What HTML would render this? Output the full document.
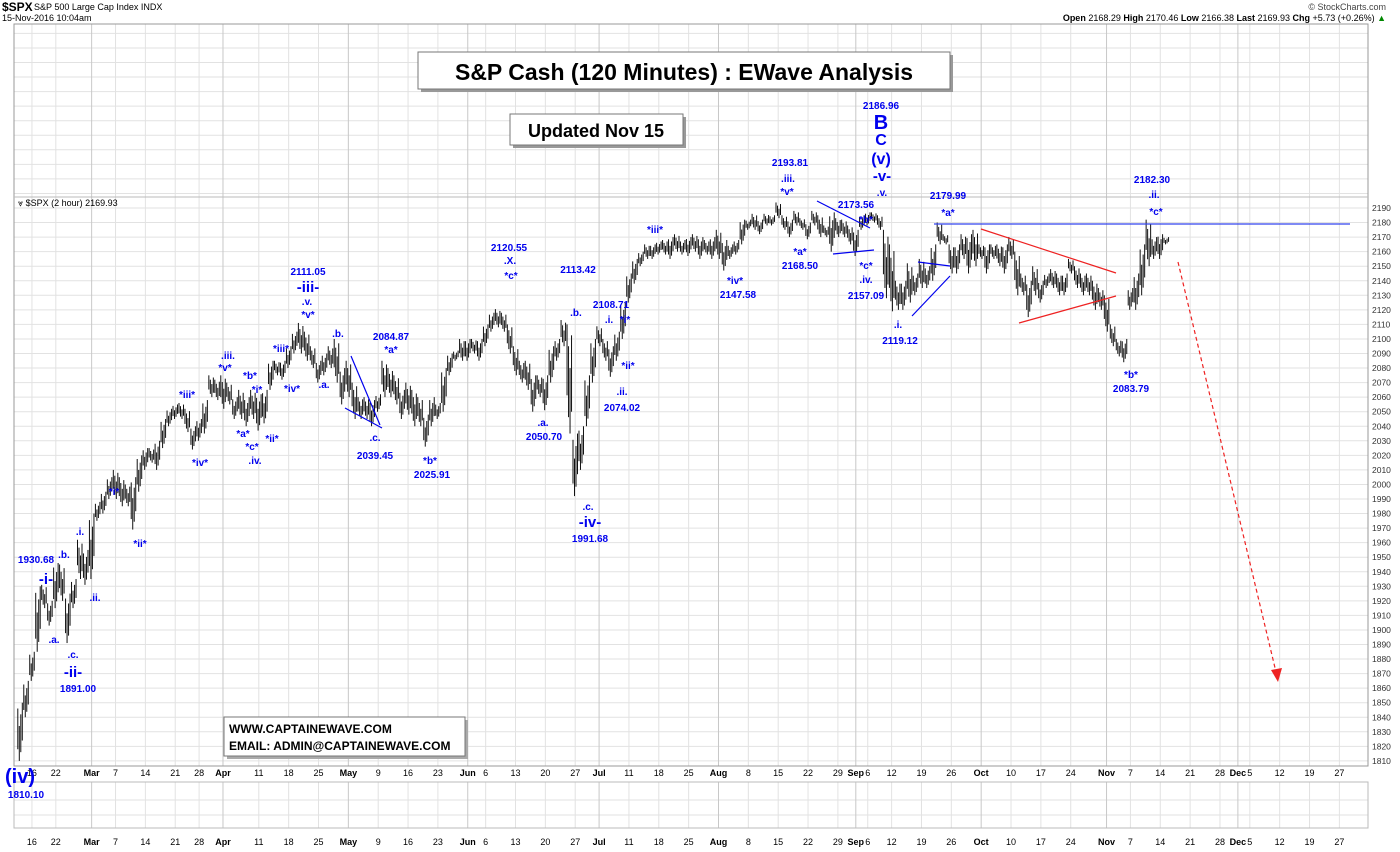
<!DOCTYPE html>
<html><head><meta charset="utf-8">
<style>
html,body{margin:0;padding:0;background:#fff;}
svg{display:block;font-family:"Liberation Sans",Arial,sans-serif;}
.lbl{fill:#0000ee;font-weight:bold;font-size:10px;text-anchor:middle;}
.big{fill:#0000ee;font-weight:bold;font-size:15px;text-anchor:middle;}
</style></head>
<body>
<svg id="chart" width="1400" height="852" viewBox="0 0 1400 852">
<g>
<text x="2" y="11" font-size="12" font-weight="bold">$SPX</text>
<text x="34" y="10" font-size="9">S&amp;P 500 Large Cap Index INDX</text>
<text x="2" y="21" font-size="9">15-Nov-2016 10:04am</text>
<text x="1386" y="10" font-size="9" text-anchor="end" fill="#444">© StockCharts.com</text>
<text x="1386" y="21" font-size="9" text-anchor="end"><tspan font-weight="bold">Open</tspan> 2168.29 <tspan font-weight="bold">High</tspan> 2170.46 <tspan font-weight="bold">Low</tspan> 2166.38 <tspan font-weight="bold">Last</tspan> 2169.93 <tspan font-weight="bold">Chg</tspan> +5.73 (+0.26%) <tspan fill="#080">▲</tspan></text>
</g>
<g id="grid"></g>
<rect x="14" y="24" width="1354" height="742" fill="none" stroke="#999"/>
<rect x="14" y="782" width="1354" height="46" fill="none" stroke="#bbb"/>
<line x1="14" y1="197" x2="1368" y2="197" stroke="#bbb"/>
<text x="18" y="206" font-size="9">⩔ $SPX (2 hour) 2169.93</text>
<g id="yaxis"></g>
<g id="xaxis"></g>
<g id="bars"></g>

<g stroke-width="1.2">
<line x1="351" y1="356" x2="380" y2="425" stroke="#0000ee"/>
<line x1="345" y1="408" x2="382" y2="428" stroke="#0000ee"/>
<line x1="817" y1="201" x2="870" y2="228" stroke="#0000ee"/>
<line x1="833" y1="254" x2="874" y2="250" stroke="#0000ee"/>
<line x1="918" y1="262" x2="950" y2="266" stroke="#0000ee"/>
<line x1="912" y1="316" x2="950" y2="276" stroke="#0000ee"/>
<line x1="934" y1="224" x2="1350" y2="224" stroke="#3344ee"/>
<line x1="981" y1="229" x2="1116" y2="273" stroke="#ee2222"/>
<line x1="1019" y1="323" x2="1116" y2="296" stroke="#ee2222"/>
<line x1="1178" y1="262" x2="1276" y2="672" stroke="#ee2222" stroke-dasharray="4,3"/>
<polygon points="1278,682 1271,670 1282,668" fill="#ee2222"/>
</g>

<g>
<rect x="421" y="55" width="532" height="37" fill="#999"/>
<rect x="418" y="52" width="532" height="37" fill="#fff" stroke="#777"/>
<text x="684" y="80" font-size="23" font-weight="bold" text-anchor="middle">S&amp;P Cash (120 Minutes) : EWave Analysis</text>
</g>
<g>
<rect x="513" y="117" width="173" height="31" fill="#999"/>
<rect x="510" y="114" width="173" height="31" fill="#fff" stroke="#777"/>
<text x="596" y="137" font-size="18" font-weight="bold" text-anchor="middle">Updated Nov 15</text>
</g>
<g>
<rect x="227" y="720" width="241" height="39" fill="#aaa"/>
<rect x="224" y="717" width="241" height="39" fill="#fff" stroke="#777"/>
<text x="229" y="733" font-size="12" font-weight="bold">WWW.CAPTAINEWAVE.COM</text>
<text x="229" y="750" font-size="12" font-weight="bold">EMAIL: ADMIN@CAPTAINEWAVE.COM</text>
</g>

<g>
<text class="big" x="20" y="783" font-size="20" style="font-size:20px">(iv)</text>
<text class="lbl" x="26" y="798">1810.10</text>
<text class="lbl" x="36" y="563">1930.68</text>
<text class="big" x="46" y="584">-i-</text>
<text class="lbl" x="64" y="558">.b.</text>
<text class="lbl" x="54" y="643">.a.</text>
<text class="lbl" x="73" y="658">.c.</text>
<text class="big" x="73" y="677">-ii-</text>
<text class="lbl" x="78" y="692">1891.00</text>
<text class="lbl" x="80" y="535">.i.</text>
<text class="lbl" x="95" y="601">.ii.</text>
<text class="lbl" x="114" y="495">*i*</text>
<text class="lbl" x="140" y="547">*ii*</text>
<text class="lbl" x="187" y="398">*iii*</text>
<text class="lbl" x="200" y="466">*iv*</text>
<text class="lbl" x="228" y="359">.iii.</text>
<text class="lbl" x="225" y="371">*v*</text>
<text class="lbl" x="250" y="379">*b*</text>
<text class="lbl" x="257" y="393">*i*</text>
<text class="lbl" x="243" y="437">*a*</text>
<text class="lbl" x="252" y="450">*c*</text>
<text class="lbl" x="255" y="464">.iv.</text>
<text class="lbl" x="272" y="442">*ii*</text>
<text class="lbl" x="281" y="352">*iii*</text>
<text class="lbl" x="292" y="392">*iv*</text>
<text class="lbl" x="308" y="275">2111.05</text>
<text class="big" x="308" y="292">-iii-</text>
<text class="lbl" x="307" y="305">.v.</text>
<text class="lbl" x="308" y="318">*v*</text>
<text class="lbl" x="338" y="337">.b.</text>
<text class="lbl" x="324" y="388">.a.</text>
<text class="lbl" x="391" y="340">2084.87</text>
<text class="lbl" x="391" y="353">*a*</text>
<text class="lbl" x="375" y="441">.c.</text>
<text class="lbl" x="375" y="459">2039.45</text>
<text class="lbl" x="430" y="464">*b*</text>
<text class="lbl" x="432" y="478">2025.91</text>
<text class="lbl" x="509" y="251">2120.55</text>
<text class="lbl" x="510" y="264">.X.</text>
<text class="lbl" x="511" y="279">*c*</text>
<text class="lbl" x="543" y="426">.a.</text>
<text class="lbl" x="544" y="440">2050.70</text>
<text class="lbl" x="578" y="273">2113.42</text>
<text class="lbl" x="576" y="316">.b.</text>
<text class="lbl" x="611" y="308">2108.71</text>
<text class="lbl" x="609" y="323">.i.</text>
<text class="lbl" x="625" y="323">*i*</text>
<text class="lbl" x="628" y="369">*ii*</text>
<text class="lbl" x="622" y="395">.ii.</text>
<text class="lbl" x="622" y="411">2074.02</text>
<text class="lbl" x="588" y="510">.c.</text>
<text class="big" x="590" y="527">-iv-</text>
<text class="lbl" x="590" y="542">1991.68</text>
<text class="lbl" x="655" y="233">*iii*</text>
<text class="lbl" x="735" y="284">*iv*</text>
<text class="lbl" x="738" y="298">2147.58</text>
<text class="lbl" x="790" y="166">2193.81</text>
<text class="lbl" x="788" y="182">.iii.</text>
<text class="lbl" x="787" y="195">*v*</text>
<text class="lbl" x="800" y="255">*a*</text>
<text class="lbl" x="800" y="269">2168.50</text>
<text class="lbl" x="856" y="208">2173.56</text>
<text class="lbl" x="866" y="223">*b*</text>
<text class="lbl" x="866" y="269">*c*</text>
<text class="lbl" x="866" y="283">.iv.</text>
<text class="lbl" x="866" y="299">2157.09</text>
<text class="lbl" x="881" y="109">2186.96</text>
<text class="big" x="881" y="129" style="font-size:20px">B</text>
<text class="big" x="881" y="145" style="font-size:16px">C</text>
<text class="big" x="881" y="164" style="font-size:16px">(v)</text>
<text class="big" x="882" y="181">-v-</text>
<text class="lbl" x="882" y="196">.v.</text>
<text class="lbl" x="948" y="199">2179.99</text>
<text class="lbl" x="948" y="216">*a*</text>
<text class="lbl" x="898" y="328">.i.</text>
<text class="lbl" x="900" y="344">2119.12</text>
<text class="lbl" x="1152" y="183">2182.30</text>
<text class="lbl" x="1154" y="198">.ii.</text>
<text class="lbl" x="1156" y="215">*c*</text>
<text class="lbl" x="1131" y="378">*b*</text>
<text class="lbl" x="1131" y="392">2083.79</text>
</g>
</svg>
<script>
const tickDays = [2,6,12,16,21,26,30,34,40,45,50,55,60,65,70,75,78,83,88,93,97,102,107,112,117,122,127,132,137,140,142,146,151,156,161,166,171,176,182,186,191,196,201,204,206,211,216,221];
const tickLabels = ["16","22","Mar","7","14","21","28","Apr","11","18","25","May","9","16","23","Jun","6","13","20","27","Jul","11","18","25","Aug","8","15","22","29","Sep","6","12","19","26","Oct","10","17","24","Nov","7","14","21","28","Dec","5","12","19","27"];
const priceTicks = [2190,2180,2170,2160,2150,2140,2130,2120,2110,2100,2090,2080,2070,2060,2050,2040,2030,2020,2010,2000,1990,1980,1970,1960,1950,1940,1930,1920,1910,1900,1890,1880,1870,1860,1850,1840,1830,1820,1810];
const lows = [1810,1840,1865,1885,1915,1903,1915,1920,1891,1915,1935,1931,1935,1975,1980,1990,1990,1985,1985,1969,1995,2010,2015,2010,2025,2040,2045,2045,2036,2024,2030,2035,2060,2058,2052,2055,2045,2045,2040,2045,2037,2042,2065,2075,2072,2080,2090,2090,2085,2080,2070,2075,2080,2070,2055,2060,2045,2045,2045,2040,2050,2060,2060,2055,2045,2048,2040,2040,2026,2040,2045,2050,2075,2085,2085,2085,2090,2085,2095,2105,2108,2105,2090,2075,2070,2065,2050,2060,2051,2070,2085,2095,2035,1992,2010,2040,2070,2095,2085,2074,2085,2100,2125,2138,2150,2155,2155,2158,2158,2155,2160,2158,2157,2160,2155,2158,2155,2155,2147,2155,2158,2165,2175,2175,2172,2178,2178,2183,2175,2170,2178,2175,2168.5,2178,2170,2170,2160,2170,2170,2165,2157,2175,2178,2180,2175,2128,2119,2120,2120,2125,2130,2135,2135,2140,2165,2165,2145,2145,2155,2145,2150,2155,2145,2155,2150,2145,2155,2130,2130,2115,2130,2125,2135,2135,2130,2130,2145,2135,2130,2130,2120,2120,2105,2095,2088,2084,2120,2120,2130,2150,2155,2155,2165];
const highs = [1850,1865,1885,1930,1931,1920,1946,1945,1925,1935,1962,1955,1980,1988,1995,2005,2010,2005,2000,2005,2020,2025,2025,2030,2045,2052,2055,2056,2052,2040,2045,2058,2075,2072,2075,2070,2060,2065,2060,2065,2062,2065,2085,2085,2085,2095,2105,2111,2105,2095,2085,2090,2095,2100,2080,2085,2070,2060,2060,2058,2062,2085,2080,2075,2065,2070,2065,2060,2048,2060,2056,2080,2090,2092,2100,2100,2100,2100,2110,2118,2120.5,2118,2110,2095,2085,2085,2075,2075,2075,2095,2100,2113,2110,2035,2040,2075,2100,2108.7,2100,2095,2105,2125,2145,2155,2160,2165,2165,2167,2168,2170,2172,2168,2170,2172,2170,2168,2170,2175,2168,2165,2168,2182,2182,2186,2182,2186,2185,2193.8,2185,2182,2188,2183,2180,2188,2185,2178,2187,2183,2182,2178,2175,2185,2187,2187,2185,2175,2165,2140,2140,2152,2145,2155,2150,2165,2180,2172,2165,2165,2172,2172,2175,2165,2165,2165,2165,2165,2170,2160,2145,2140,2150,2140,2145,2148,2145,2145,2155,2150,2145,2145,2140,2135,2130,2110,2100,2100,2135,2145,2165,2182,2170,2172,2170];

const svg = document.getElementById('chart');
const NS = 'http://www.w3.org/2000/svg';
const x0 = 20, dayW = 5.97, y2190 = 208, ppp = 1.455;
function xScale(d){ return x0 + d*dayW; }
function yScale(p){ return y2190 + (2190-p)*ppp; }
function mk(tag, attrs, parent){ const e=document.createElementNS(NS,tag); for(const k in attrs) e.setAttribute(k,attrs[k]); parent.appendChild(e); return e; }

const grid = document.getElementById('grid');
for(let p=2310;p>=1810;p-=10){
  const y=yScale(p); if(y<25) continue;
  const l=mk('line',{x1:14,x2:1368,y1:y,y2:y,stroke:'#e2e2e2'},grid);
  
  
}
for(let p=1850;p>=1810;p-=20){ /* lower panel lines */ }
[800,815].forEach(y=>{ const l=mk('line',{x1:14,x2:1368,y1:y,y2:y,stroke:'#e2e2e2'},grid);
  
   });

const yaxis = document.getElementById('yaxis');
priceTicks.forEach(p=>{
  const t=mk('text',{x:1372,y:yScale(p)+3,'font-size':8.5,fill:'#333'},yaxis);
  t.textContent=p;
  
  
});

const xaxis = document.getElementById('xaxis');
tickDays.forEach((d,i)=>{
  const x=xScale(d); const lab=tickLabels[i]; const month=isNaN(+lab);
  const g1=mk('line',{x1:x,x2:x,y1:24,y2:766,stroke:month?'#c8c8c8':'#e2e2e2'},grid);
  
  
  const g2=mk('line',{x1:x,x2:x,y1:782,y2:828,stroke:month?'#c8c8c8':'#e2e2e2'},grid);
  
  
  [776,845].forEach(yy=>{
    const t=mk('text',{x:x,y:yy,'font-size':9,'text-anchor':'middle','font-weight':month?'bold':'normal'},xaxis);
    t.textContent=lab;
    
    
  });
});

const bars = document.getElementById('bars');
for(let i=0;i<highs.length;i++){
  const x=xScale(i), h=highs[i], l=lows[i], r=h-l;
  // four 2-hour sub-bars per day
  const segs=[[l+r*0.35,h],[l+r*0.15,h-r*0.2],[l,h-r*0.4],[l+r*0.2,h-r*0.1]];
  const up = i+1<highs.length ? (highs[i+1]+lows[i+1])>(h+l) : true;
  for(let k=0;k<4;k++){
    const s = up ? segs[3-k] : segs[k];
    const bx = x - 2.2 + k*1.5;
    const b=mk('line',{x1:bx,x2:bx,y1:yScale(s[1]),y2:yScale(s[0]),stroke:'#111','stroke-width':1},bars);
    
    
  }
}
</script>
</body></html>
